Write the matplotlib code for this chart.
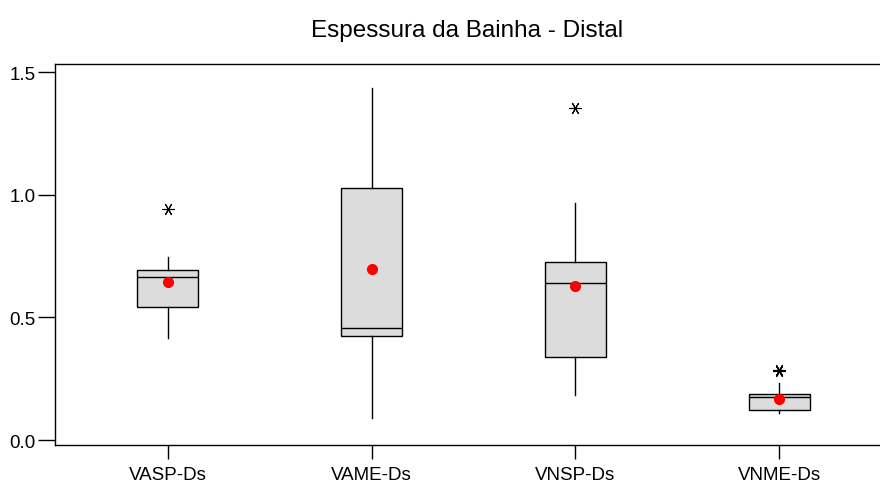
import matplotlib
matplotlib.use("Agg")
import matplotlib.pyplot as plt

plt.rcParams["font.family"] = ["Liberation Sans", "DejaVu Sans"]

# summary statistics
labels = ["VASP-Ds", "VAME-Ds", "VNSP-Ds", "VNME-Ds"]
whislo = [0.415, 0.091, 0.185, 0.109]
q1 = [0.541, 0.425, 0.338, 0.124]
med = [0.666, 0.458, 0.639, 0.174]
q3 = [0.693, 1.026, 0.726, 0.186]
whishi = [0.747, 1.435, 0.966, 0.231]
means = [0.643, 0.697, 0.627, 0.168]
outliers = [[0.942], [], [1.353], [0.283, 0.285]]

stats = []
for i, lab in enumerate(labels):
    stats.append(dict(label=lab, whislo=whislo[i], q1=q1[i], med=med[i],
                      q3=q3[i], whishi=whishi[i], mean=means[i],
                      fliers=outliers[i]))

fig = plt.figure(figsize=(8.8, 4.85), dpi=100)
ax = fig.add_axes([55 / 880, 1 - 446 / 485, 825 / 880, 381 / 485])

ax.bxp(stats, positions=[1, 2, 3, 4], widths=0.3, patch_artist=True,
       showmeans=True, showcaps=False,
       boxprops=dict(facecolor="#dcdcdc", edgecolor="black", linewidth=1.0),
       medianprops=dict(color="black", linewidth=1.0),
       whiskerprops=dict(color="black", linewidth=1.0),
       meanprops=dict(marker="o", markerfacecolor="red", markeredgecolor="red",
                      markersize=7),
       flierprops=dict(marker=(6, 2, 90), markeredgecolor="black",
                       markerfacecolor="black", markersize=9, linestyle="none",
                       markeredgewidth=0.8))

ax.set_xlim(0.446, 4.495)
ax.set_ylim(-0.02, 1.533)
ax.set_yticks([0.0, 0.5, 1.0, 1.5])
ax.set_yticklabels(["0.0", "0.5", "1.0", "1.5"])
ax.spines["right"].set_visible(False)
for s in ["left", "top", "bottom"]:
    ax.spines[s].set_linewidth(1.0)
ax.tick_params(axis="y", length=12, width=1.0, labelsize=13.5, pad=2)
ax.tick_params(axis="x", length=10, width=1.0, labelsize=13.5, pad=5)

ax.set_title("Espessura da Bainha - Distal", fontsize=17.5, pad=20)

fig.savefig("out.png", dpi=100)
